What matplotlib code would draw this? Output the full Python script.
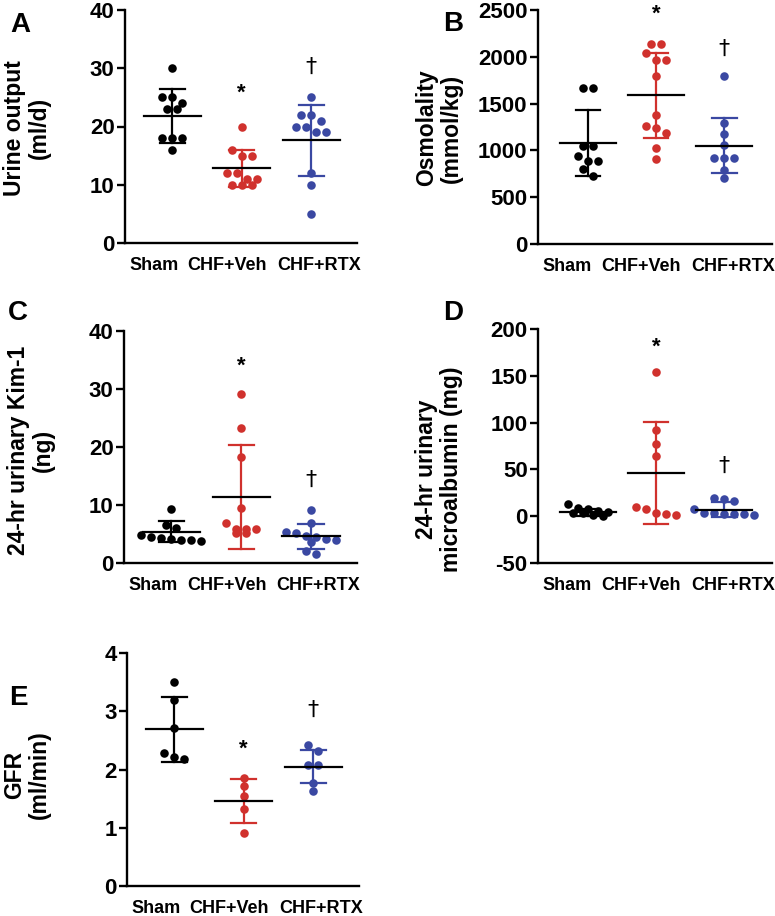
import numpy as np
import matplotlib
matplotlib.use("Agg")
import matplotlib.pyplot as plt

plt.rcParams["font.family"] = ["Liberation Sans", "DejaVu Sans"]
plt.rcParams["font.weight"] = "bold"

W, H, DPI = 775, 916, 100

groups = ["Sham", "CHF+Veh", "CHF+RTX"]
colors = ["#000000", "#d0312d", "#3a48a2"]

# ── Data ──────────────────────────────────────────────────────────────────────
urine_sham = [30, 25, 25, 24, 23, 23, 18, 18, 18, 16]
urine_veh = [20, 16, 15, 15, 12, 12, 11, 11, 10, 10, 10]
urine_rtx = [25, 22, 22, 21, 20, 20, 19, 19, 12, 10, 5]
urine_mean = [21.8, 12.8, 17.6]
urine_sd = [4.6, 3.15, 6.05]

osm_sham = [1670, 1670, 1050, 1050, 935, 890, 890, 800, 730]
osm_veh = [2135, 2135, 2040, 1965, 1965, 1800, 1380, 1260, 1240, 1185, 1025, 910]
osm_rtx = [1795, 1290, 1180, 1055, 915, 915, 915, 795, 705]
osm_mean = [1077, 1588, 1052]
osm_sd = [352, 457, 296]

kim_sham = [9.3, 6.5, 6.0, 4.8, 4.5, 4.3, 4.2, 4.0, 4.0, 3.8]
kim_veh = [29.2, 23.3, 18.3, 9.4, 6.9, 5.9, 5.9, 5.8, 5.2, 5.1]
kim_rtx = [9.2, 6.9, 5.3, 5.1, 4.6, 4.5, 4.2, 4.0, 3.6, 2.0, 1.6]
kim_mean = [5.4, 11.4, 4.6]
kim_sd = [1.8, 8.9, 2.1]

alb_sham = [13, 9, 8, 6, 4.5, 3.5, 3, 1.5, 0.5]
alb_veh = [154, 92, 77, 64, 10, 7.5, 3.5, 2.5, 1.5]
alb_rtx = [19.5, 18, 16, 7.5, 3.5, 3, 2.5, 2.5, 2, 1]
alb_mean = [4.3, 45.7, 7.1]
alb_sd = [3.6, 54.5, 8.3]

gfr_sham = [3.51, 3.19, 2.72, 2.28, 2.22, 2.18]
gfr_veh = [1.85, 1.71, 1.54, 1.32, 0.91]
gfr_rtx = [2.42, 2.31, 2.07, 2.07, 1.77, 1.63]
gfr_mean = [2.69, 1.46, 2.05]
gfr_sd = [0.555, 0.37, 0.29]

# significance marks: (group index, y)
urine_star, urine_dag = (1, 25.7), (2, 30.2)
osm_star, osm_dag = (1, 2457), (2, 2080)
kim_star, kim_dag = (1, 33.9), (2, 14.3)
alb_star, alb_dag = (1, 181), (2, 54)
gfr_star, gfr_dag = (1, 2.34), (2, 3.03)


def px_axes(fig, l, t, r, b):
    return fig.add_axes([l / W, 1 - b / H, (r - l) / W, (b - t) / H])


def swarm_offsets(vals, y_px_per_unit, x_px_per_unit, d=10.0):
    """Row-binned beeswarm: points within ~d px in y share a row, centered."""
    vals = np.asarray(vals, float)
    order = np.argsort(-vals)
    offs = np.zeros(len(vals))
    rows, cur = [], [order[0]]
    for i in order[1:]:
        if abs(vals[cur[0]] - vals[i]) * y_px_per_unit < d * 0.8:
            cur.append(i)
        else:
            rows.append(cur); cur = [i]
    rows.append(cur)
    for row in rows:
        n = len(row)
        for k, i in enumerate(row):
            offs[i] = (k - (n - 1) / 2) * d / x_px_per_unit
    return offs


def panel(fig, rect, data, means, sds, ylim, yticks, ylabel, ylab_xy,
          letter, letter_xy, star, dag, xlim=(-0.68, 2.66)):
    l, t, r, b = rect
    ax = px_axes(fig, l, t, r, b)
    ax.set_xlim(*xlim)
    ax.set_ylim(*ylim)
    ypx = (b - t) / (ylim[1] - ylim[0])
    xpx = (r - l) / (xlim[1] - xlim[0])
    for gi, (vals, m, s, c) in enumerate(zip(data, means, sds, colors)):
        offs = swarm_offsets(vals, ypx, xpx)
        ax.scatter(gi + offs, vals, s=38, color=c, zorder=3, linewidths=0)
        ax.plot([gi, gi], [m - s, m + s], color=c, lw=1.6, zorder=2)
        ax.plot([gi - 0.18, gi + 0.18], [m + s, m + s], color=c, lw=1.6, zorder=2)
        ax.plot([gi - 0.18, gi + 0.18], [m - s, m - s], color=c, lw=1.6, zorder=2)
        ax.plot([gi - 0.41, gi + 0.41], [m, m], color="black", lw=1.6, zorder=4)
    ax.text(star[0], star[1], "*", ha="center", va="center", fontsize=16,
            fontweight="bold")
    ax.text(dag[0], dag[1], "\u2020", ha="center", va="center", fontsize=16,
            fontweight="normal", family="DejaVu Sans")
    ax.set_yticks(yticks)
    ax.set_yticklabels([str(v) for v in yticks], fontsize=16, fontweight="bold")
    ax.set_xticks([])
    # group names sit at Prism's spread-out label positions, baseline 27 px below axis
    for fx, g in zip([0.125, 0.44, 0.835], groups):
        ax.text(fx, -27 / (b - t), g, transform=ax.transAxes, ha="center",
                va="baseline", fontsize=13, fontweight="bold")
    ax.tick_params(axis="y", length=5.5, width=1.7, pad=2)
    for sp in ["top", "right"]:
        ax.spines[sp].set_visible(False)
    for sp in ["left", "bottom"]:
        ax.spines[sp].set_linewidth(1.7)
    fig.text(ylab_xy[0] / W, 1 - ylab_xy[1] / H, ylabel, rotation=90,
             ha="center", va="center", fontsize=16.5, fontweight="bold",
             multialignment="center", linespacing=1.1)
    fig.text(letter_xy[0] / W, 1 - letter_xy[1] / H, letter, ha="center",
             va="center", fontsize=20, fontweight="bold")
    return ax


fig = plt.figure(figsize=(W / DPI, H / DPI), dpi=DPI, facecolor="white")

panel(fig, (125, 10, 357, 243), [urine_sham, urine_veh, urine_rtx],
      urine_mean, urine_sd, (0, 40), [0, 10, 20, 30, 40],
      "Urine output\n(ml/d)", (27, 128), "A", (20, 25), urine_star, urine_dag)

panel(fig, (538, 10, 772, 244), [osm_sham, osm_veh, osm_rtx],
      osm_mean, osm_sd, (0, 2500), [0, 500, 1000, 1500, 2000, 2500],
      "Osmolality\n(mmol/kg)", (439, 128), "B", (453, 24), osm_star, osm_dag,
      xlim=(-0.73, 2.7))

panel(fig, (124, 331, 357, 563), [kim_sham, kim_veh, kim_rtx],
      kim_mean, kim_sd, (0, 40), [0, 10, 20, 30, 40],
      "24-hr urinary Kim-1\n(ng)", (31, 450), "C", (18, 313), kim_star, kim_dag)

panel(fig, (538, 329, 772, 563), [alb_sham, alb_veh, alb_rtx],
      alb_mean, alb_sd, (-50, 200), [-50, 0, 50, 100, 150, 200],
      "24-hr urinary\nmicroalbumin (mg)", (439, 469), "D", (453, 313),
      alb_star, alb_dag, xlim=(-0.73, 2.7))

panel(fig, (127, 653, 359, 886), [gfr_sham, gfr_veh, gfr_rtx],
      gfr_mean, gfr_sd, (0, 4), [0, 1, 2, 3, 4],
      "GFR\n(ml/min)", (27, 775), "E", (18, 698), gfr_star, gfr_dag)

fig.savefig("out.png", dpi=DPI, facecolor="white")
